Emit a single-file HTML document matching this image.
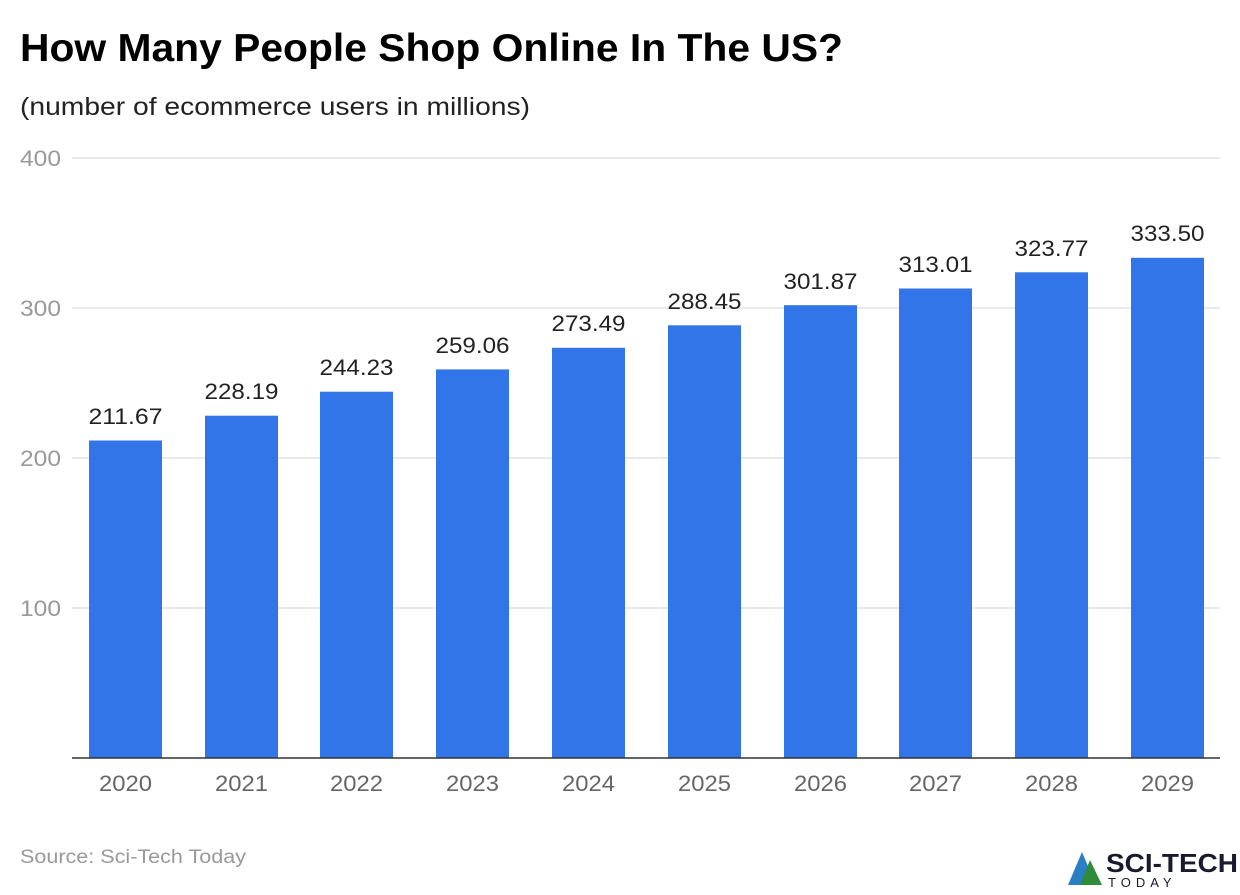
<!DOCTYPE html>
<html><head><style>
body{margin:0;width:1240px;height:890px;background:#fff;font-family:"Liberation Sans",sans-serif;overflow:hidden}
</style></head><body>
<svg width="1240" height="890" xmlns="http://www.w3.org/2000/svg" font-family="Liberation Sans, sans-serif">
<text x="20" y="61" font-size="39" font-weight="bold" fill="#000" textLength="823" lengthAdjust="spacingAndGlyphs">How Many People Shop Online In The US?</text>
<text x="20" y="115" font-size="25" fill="#222" textLength="510" lengthAdjust="spacingAndGlyphs">(number of ecommerce users in millions)</text>
<g stroke="#e3e3e3" stroke-width="1.5">
<line x1="72" x2="1220" y1="158" y2="158"/><line x1="72" x2="1220" y1="308" y2="308"/>
<line x1="72" x2="1220" y1="458" y2="458"/><line x1="72" x2="1220" y1="608" y2="608"/>
</g>
<g font-size="22" fill="#999">
<text x="20" y="166" textLength="41" lengthAdjust="spacingAndGlyphs">400</text><text x="20" y="316" textLength="41" lengthAdjust="spacingAndGlyphs">300</text><text x="20" y="466" textLength="41" lengthAdjust="spacingAndGlyphs">200</text><text x="20" y="616" textLength="41" lengthAdjust="spacingAndGlyphs">100</text>
</g>
<g fill="#3275e8">
<rect x="89" y="440.5" width="73" height="317.5"/>
<rect x="205" y="415.7" width="73" height="342.3"/>
<rect x="320" y="391.7" width="73" height="366.3"/>
<rect x="436" y="369.4" width="73" height="388.6"/>
<rect x="552" y="347.8" width="73" height="410.2"/>
<rect x="668" y="325.3" width="73" height="432.7"/>
<rect x="784" y="305.2" width="73" height="452.8"/>
<rect x="899" y="288.5" width="73" height="469.5"/>
<rect x="1015" y="272.3" width="73" height="485.7"/>
<rect x="1131" y="257.8" width="73" height="500.2"/>
</g>
<line x1="72" x2="1220" y1="758" y2="758" stroke="#333" stroke-width="1.5"/>
<g font-size="22" fill="#222" text-anchor="middle">
<text x="125.5" y="424" textLength="74" lengthAdjust="spacingAndGlyphs">211.67</text><text x="241.5" y="399" textLength="74" lengthAdjust="spacingAndGlyphs">228.19</text><text x="356.5" y="375" textLength="74" lengthAdjust="spacingAndGlyphs">244.23</text>
<text x="472.5" y="353" textLength="74" lengthAdjust="spacingAndGlyphs">259.06</text><text x="588.5" y="331" textLength="74" lengthAdjust="spacingAndGlyphs">273.49</text><text x="704.5" y="309" textLength="74" lengthAdjust="spacingAndGlyphs">288.45</text>
<text x="820.5" y="289" textLength="74" lengthAdjust="spacingAndGlyphs">301.87</text><text x="935.5" y="272" textLength="74" lengthAdjust="spacingAndGlyphs">313.01</text><text x="1051.5" y="256" textLength="74" lengthAdjust="spacingAndGlyphs">323.77</text>
<text x="1167.5" y="241" textLength="74" lengthAdjust="spacingAndGlyphs">333.50</text>
</g>
<g font-size="22" fill="#666" text-anchor="middle">
<text x="125.5" y="791" textLength="53" lengthAdjust="spacingAndGlyphs">2020</text><text x="241.5" y="791" textLength="53" lengthAdjust="spacingAndGlyphs">2021</text><text x="356.5" y="791" textLength="53" lengthAdjust="spacingAndGlyphs">2022</text>
<text x="472.5" y="791" textLength="53" lengthAdjust="spacingAndGlyphs">2023</text><text x="588.5" y="791" textLength="53" lengthAdjust="spacingAndGlyphs">2024</text><text x="704.5" y="791" textLength="53" lengthAdjust="spacingAndGlyphs">2025</text>
<text x="820.5" y="791" textLength="53" lengthAdjust="spacingAndGlyphs">2026</text><text x="935.5" y="791" textLength="53" lengthAdjust="spacingAndGlyphs">2027</text><text x="1051.5" y="791" textLength="53" lengthAdjust="spacingAndGlyphs">2028</text>
<text x="1167.5" y="791" textLength="53" lengthAdjust="spacingAndGlyphs">2029</text>
</g>
<text x="20" y="863" font-size="19" fill="#999" textLength="226" lengthAdjust="spacingAndGlyphs">Source: Sci-Tech Today</text>
<polygon points="1068,885 1082,852 1096,885" fill="#2a7fc4"/>
<polygon points="1080,885 1090,860 1102,885" fill="#2e8b3a"/>
<text x="1106" y="872" font-size="26" font-weight="bold" fill="#1a1a2e" textLength="132" lengthAdjust="spacingAndGlyphs">SCI-TECH</text>
<text x="1108" y="887" font-size="13" fill="#1a1a2e" letter-spacing="5">TODAY</text>
</svg>
</body></html>
